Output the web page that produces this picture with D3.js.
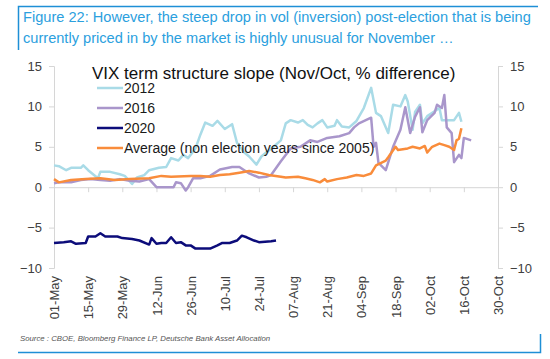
<!DOCTYPE html>
<html>
<head>
<meta charset="utf-8">
<script src="https://cdn.jsdelivr.net/npm/d3@7"></script>
<style>
  body { margin: 0; background: #fff; }
  svg { font-family: "Liberation Sans", Arial, sans-serif; }
</style>
</head>
<body>
<div id="chart"></div>
<script>
// set the dimensions of the picture
var width = 550
var height = 359

// tick labels
var xTicks = ["01-May", "15-May", "29-May", "12-Jun", "26-Jun", "10-Jul", "24-Jul",
              "07-Aug", "21-Aug", "04-Sep", "18-Sep", "02-Oct", "16-Oct", "30-Oct"]
var yTicks = [-10, -5, 0, 5, 10, 15]

// series (dates as mm-dd, values in %)
var dates2012 = ["05-01","05-03","05-06","05-08","05-12","05-13","05-15","05-19","05-20","05-24",
  "05-28","05-30","06-02","06-04","06-07","06-09","06-13","06-16","06-18","06-21","06-23","06-25",
  "06-28","06-30","07-02","07-05","07-07","07-10","07-13","07-15","07-18","07-20","07-23","07-25",
  "07-27","07-30","08-02","08-04","08-06","08-09","08-11","08-13","08-15","08-17","08-19","08-21",
  "08-24","08-25","08-27","08-30","09-02","09-05","09-08","09-10","09-12","09-15","09-17","09-20",
  "09-22","09-23","09-25","09-26","09-28","09-29","10-01","10-04","10-06","10-07","10-12","10-14","10-15"]
var vals2012 = [2.7,2.6,2.1,2.4,2.4,2.7,2.1,1.1,1.9,1.9,
  1.6,1.4,0.4,1.2,1.5,2.1,2.4,2.5,3.6,3.3,4.0,3.6,
  4.8,6.5,8.0,7.6,8.2,7.2,7.8,5.5,4.3,3.8,2.8,3.8,
  4.3,5.0,5.8,7.9,8.3,8.0,8.3,7.7,7.4,7.9,8.3,7.4,
  7.6,8.3,7.5,7.4,8.2,9.8,12.3,9.2,8.8,6.7,10.2,10.0,
  11.4,10.6,7.1,9.3,10.2,7.9,8.8,9.4,9.8,8.3,8.3,9.2,8.1]

var dates2016 = ["05-01","05-03","05-08","05-12","05-16","05-20","05-24","05-28","06-01","06-05",
  "06-09","06-12","06-15","06-19","06-20","06-22","06-24","06-25","06-27","06-30","07-04","07-08",
  "07-13","07-16","07-20","07-24","07-27","07-29","08-02","08-06","08-10","08-14","08-17","08-21",
  "08-26","08-30","09-01","09-03","09-08","09-09","09-10","09-11","09-14","09-17","09-20","09-22",
  "09-24","09-26","09-28","09-29","10-01","10-04","10-05","10-07","10-08","10-09","10-11","10-12",
  "10-14","10-15","10-16","10-19"]
var vals2016 = [0.5,0.6,0.6,0.9,1.0,0.9,0.8,1.0,0.8,0.7,
  1.0,0.0,0.0,0.0,0.6,0.5,-0.4,0.0,1.1,1.1,1.4,2.2,
  2.5,2.5,1.7,1.2,1.3,1.5,3.2,4.8,5.0,5.8,5.6,6.1,
  6.3,6.7,7.4,7.9,8.6,5.0,5.5,3.0,2.1,5.0,7.1,9.9,
  6.7,8.7,9.9,6.8,8.3,9.2,10.2,9.8,11.4,7.4,6.7,3.1,
  4.0,3.6,6.1,5.8]

var dates2020 = ["05-01","05-05","05-08","05-10","05-14","05-15","05-18","05-20","05-22","05-27",
  "05-29","06-02","06-05","06-09","06-10","06-12","06-14","06-16","06-18","06-20","06-22","06-24",
  "06-26","06-28","07-04","07-07","07-09","07-12","07-15","07-17","07-19","07-22","07-24","07-29","07-31"]
var vals2020 = [-6.9,-6.8,-6.7,-7.0,-6.9,-6.1,-6.1,-5.7,-6.1,-6.1,
  -6.3,-6.4,-6.6,-7.1,-6.3,-7.0,-6.9,-6.9,-6.2,-6.9,-6.8,-7.2,
  -7.2,-7.6,-7.6,-7.2,-6.9,-6.9,-6.6,-6.0,-6.2,-6.6,-6.8,-6.7,-6.6]

var datesAvg = ["05-01","05-03","05-08","05-14","05-20","05-26","06-01","06-09","06-14","06-18",
  "06-26","06-30","07-04","07-08","07-12","07-16","07-20","07-24","07-28","08-02","08-04","08-09",
  "08-12","08-15","08-18","08-20","08-21","08-25","08-29","09-02","09-05","09-08","09-10","09-14",
  "09-15","09-18","09-19","09-23","09-25","09-28","09-30","10-01","10-03","10-06","10-08","10-10",
  "10-12","10-13","10-14","10-15"]
var valsAvg = [1.0,0.6,0.9,1.0,1.1,0.9,1.0,1.1,1.4,1.3,
  1.4,1.4,1.3,1.5,1.6,1.8,2.0,1.8,1.5,1.3,1.2,1.3,
  1.1,0.9,0.6,1.0,0.7,1.0,1.2,1.5,1.4,1.7,2.7,3.3,
  3.7,5.0,4.6,4.8,5.0,4.8,5.1,4.3,5.0,5.4,5.2,5.0,
  4.6,5.8,6.0,7.3]

var seriesNames = ["2012", "2016", "2020", "Average (non election years since 2005)"]
var seriesColors = ["#a9dbe7", "#a996cb", "#0c0c7a", "#f98c3b"]

var parseDay = d3.timeParse("%m-%d")
var parseTick = d3.timeParse("%d-%b")

function zipSeries(ds, vs) {
  return ds.map(function(d, i) { return { date: parseDay(d), value: vs[i] } })
}
var series = [
  zipSeries(dates2012, vals2012),
  zipSeries(dates2016, vals2016),
  zipSeries(dates2020, vals2020),
  zipSeries(datesAvg, valsAvg)
]

var svg = d3.select("#chart")
  .append("svg")
    .attr("width", width)
    .attr("height", height)

// frame lines of the figure
var blue = "#1e8fd6"
svg.append("path")
  .attr("d", "M18.5,50 V6.5 H538")
  .attr("fill", "none").attr("stroke", blue).attr("stroke-width", 1.5)
svg.append("path")
  .attr("d", "M18,352.5 H540.5 V334")
  .attr("fill", "none").attr("stroke", blue).attr("stroke-width", 1.5)

svg.append("text").attr("x", 23).attr("y", 22)
  .attr("fill", "#2ba0de").style("font-size", "14.6px")
  .text("Figure 22: However, the steep drop in vol (inversion) post-election that is being")
svg.append("text").attr("x", 23).attr("y", 43)
  .attr("fill", "#2ba0de").style("font-size", "14.6px")
  .text("currently priced in by the market is highly unusual for November \u2026")

svg.append("text").attr("x", 20).attr("y", 341)
  .attr("fill", "#555").style("font-size", "7.8px").style("font-style", "italic")
  .text("Source : CBOE, Bloomberg Finance LP, Deutsche Bank Asset Allocation")

// scales
var x = d3.scaleTime()
  .domain([parseTick("01-May"), parseTick("30-Oct")])
  .range([54, 498])
var y = d3.scaleLinear()
  .domain([-10, 15])
  .range([268, 66])

var axisColor = "#d6d6d6"
var labelColor = "#404040"

function styleAxis(g) {
  g.selectAll("path, line").attr("stroke", axisColor)
  g.selectAll("text").attr("fill", labelColor).style("font-size", "13px")
  g.select(".domain").attr("stroke", axisColor)
}

svg.append("g")
  .attr("transform", "translate(54,0)")
  .call(d3.axisLeft(y).tickValues(yTicks).tickSize(5).tickPadding(7))
  .call(styleAxis)

svg.append("g")
  .attr("transform", "translate(498,0)")
  .call(d3.axisRight(y).tickValues(yTicks).tickSize(5).tickPadding(7))
  .call(styleAxis)

// x axis sits on the zero line, labels drop to the bottom
var xAxis = svg.append("g")
  .attr("transform", "translate(0," + y(0) + ")")
  .call(d3.axisBottom(x).tickValues(xTicks.map(parseTick)).tickSize(5)
        .tickFormat(d3.timeFormat("%d-%b")).tickSizeOuter(0))
  .call(styleAxis)
xAxis.selectAll("text")
  .attr("transform", "translate(0," + (y(-10) - y(0) + 8) + ") rotate(-90)")
  .attr("text-anchor", "end")
  .attr("x", 0).attr("y", 0).attr("dy", "0.35em")

// lines
var line = d3.line()
  .x(function(d) { return x(d.date) })
  .y(function(d) { return y(d.value) })

svg.selectAll(".series")
  .data(series)
  .enter()
  .append("path")
    .attr("class", "series")
    .attr("fill", "none")
    .attr("stroke", function(d, i) { return seriesColors[i] })
    .attr("stroke-width", 2.5)
    .attr("stroke-linejoin", "round")
    .attr("d", line)

// legend
svg.append("text").attr("x", 92).attr("y", 79)
  .attr("fill", "#111").style("font-size", "17px")
  .text("VIX term structure slope (Nov/Oct, % difference)")

var legend = svg.selectAll(".legend")
  .data(seriesNames)
  .enter()
  .append("g")
    .attr("class", "legend")
    .attr("transform", function(d, i) { return "translate(97," + (88 + i * 20) + ")" })
legend.append("line")
  .attr("x1", 0).attr("x2", 26)
  .attr("stroke", function(d, i) { return seriesColors[i] })
  .attr("stroke-width", 2.5)
legend.append("text")
  .attr("x", 27).attr("y", 5)
  .attr("fill", "#1a1a1a").style("font-size", "14px")
  .text(function(d) { return d })
</script>
</body>
</html>
